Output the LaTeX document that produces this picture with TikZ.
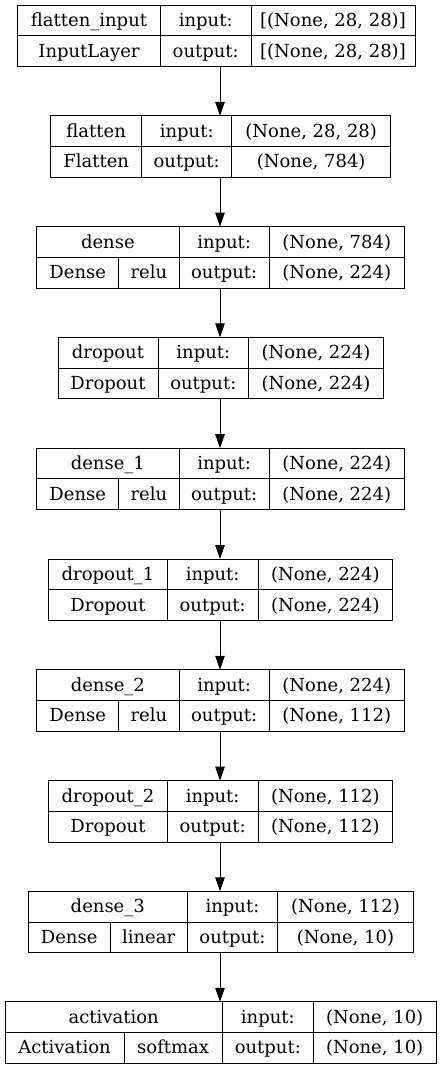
\documentclass[tikz,border=0pt]{standalone}
\usepackage{fontspec}
\setmainfont{DejaVu Serif}
\usetikzlibrary{arrows.meta}
\tikzset{
  layerbox/.style={draw=black, line width=1pt, inner sep=0pt, outer sep=0pt,
    minimum height=61.5pt, anchor=north west},
  cellline/.style={draw=black, line width=1pt},
  lbl/.style={inner sep=0pt, anchor=base, font=\fontsize{18}{21}\selectfont},
  flow/.style={draw=black, line width=1pt, -{Triangle[length=14pt,width=9.5pt]}},
}
\def\getgeoA#1/#2/#3/#4/#5\relax{\def\gL{#1}\def\gA{#2}\def\gB{#3}\def\gR{#4}\def\gT{#5}}
\def\getgeoB#1/#2/#3/#4/#5/#6\relax{\def\gL{#1}\def\gZ{#2}\def\gA{#3}\def\gB{#4}\def\gR{#5}\def\gT{#6}}
\def\geomcommon{%
  \pgfmathsetmacro\gW{\gR-\gL}%
  \pgfmathsetmacro\gM{\gT+30.75}%
  \pgfmathsetmacro\gBot{\gT+61.5}%
  \pgfmathsetmacro\gya{\gT+21.5}%
  \pgfmathsetmacro\gyb{\gT+52}%
}
% #1 id, #2 L/D1/D2/R/T, #3 name, #4 class, #5 in shape, #6 out shape
\def\layerA#1#2#3#4#5#6{%
  \getgeoA#2\relax\geomcommon
  \node[layerbox, minimum width=\gW pt] (#1) at (\gL,\gT) {};
  \draw[cellline] (#1.west) -- (#1.east);
  \draw[cellline] (\gA,\gT) -- (\gA,\gBot);
  \draw[cellline] (\gB,\gT) -- (\gB,\gBot);
  \node[lbl] at ({(\gL+\gA)/2},\gya) {#3};
  \node[lbl] at ({(\gL+\gA)/2},\gyb) {#4};
  \node[lbl] at ({(\gA+\gB)/2},\gya) {input:};
  \node[lbl] at ({(\gA+\gB)/2},\gyb) {output:};
  \node[lbl] at ({(\gB+\gR)/2},\gya) {#5};
  \node[lbl] at ({(\gB+\gR)/2},\gyb) {#6};
}
% #1 id, #2 L/D0/D1/D2/R/T, #3 name, #4 class, #5 activation, #6 in, #7 out
\def\layerB#1#2#3#4#5#6#7{%
  \getgeoB#2\relax\geomcommon
  \node[layerbox, minimum width=\gW pt] (#1) at (\gL,\gT) {};
  \draw[cellline] (#1.west) -- (#1.east);
  \draw[cellline] (\gZ,\gM) -- (\gZ,\gBot);
  \draw[cellline] (\gA,\gT) -- (\gA,\gBot);
  \draw[cellline] (\gB,\gT) -- (\gB,\gBot);
  \node[lbl] at ({(\gL+\gA)/2},\gya) {#3};
  \node[lbl] at ({(\gL+\gZ)/2},\gyb) {#4};
  \node[lbl] at ({(\gZ+\gA)/2},\gyb) {#5};
  \node[lbl] at ({(\gA+\gB)/2},\gya) {input:};
  \node[lbl] at ({(\gA+\gB)/2},\gyb) {output:};
  \node[lbl] at ({(\gB+\gR)/2},\gya) {#6};
  \node[lbl] at ({(\gB+\gR)/2},\gyb) {#7};
}
\begin{document}
\begin{tikzpicture}[x=1pt, y=-1pt]
  \useasboundingbox (0,0) rectangle (441,1069);
  \layerA{b1}{17.5/160.5/251/415/5}{flatten\_input}{InputLayer}{[(None, 28, 28)]}{[(None, 28, 28)]}
  \layerA{b2}{50.7/141.7/231.7/390.7/115.9}{flatten}{Flatten}{(None, 28, 28)}{(None, 784)}
  \layerB{b3}{36.7/118.7/179/269.3/404.3/226.6}{dense}{Dense}{relu}{(None, 784)}{(None, 224)}
  \layerA{b4}{58/158/248.7/383.3/337.3}{dropout}{Dropout}{(None, 224)}{(None, 224)}
  \layerB{b5}{36.7/118.7/179/269.3/404.3/448.2}{dense\_1}{Dense}{relu}{(None, 224)}{(None, 224)}
  \layerA{b6}{48.7/167.3/258/392.7/559}{dropout\_1}{Dropout}{(None, 224)}{(None, 224)}
  \layerB{b7}{36.7/118.7/179/269.3/404.3/669.8}{dense\_2}{Dense}{relu}{(None, 224)}{(None, 112)}
  \layerA{b8}{48.7/167.3/258/392.7/780.6}{dropout\_2}{Dropout}{(None, 112)}{(None, 112)}
  \layerB{b9}{28.3/110/187.3/277.7/413.3/891.3}{dense\_3}{Dense}{linear}{(None, 112)}{(None, 10)}
  \layerB{b10}{5/124/222.3/313.3/436/1001.8}{activation}{Activation}{softmax}{(None, 10)}{(None, 10)}
  \coordinate (ax) at (220,0);
  \foreach \a/\b in {b1/b2,b2/b3,b3/b4,b4/b5,b5/b6,b6/b7,b7/b8,b8/b9,b9/b10}
    \draw[flow] (\a.south -| ax) -- (\b.north -| ax);
\end{tikzpicture}
\end{document}
